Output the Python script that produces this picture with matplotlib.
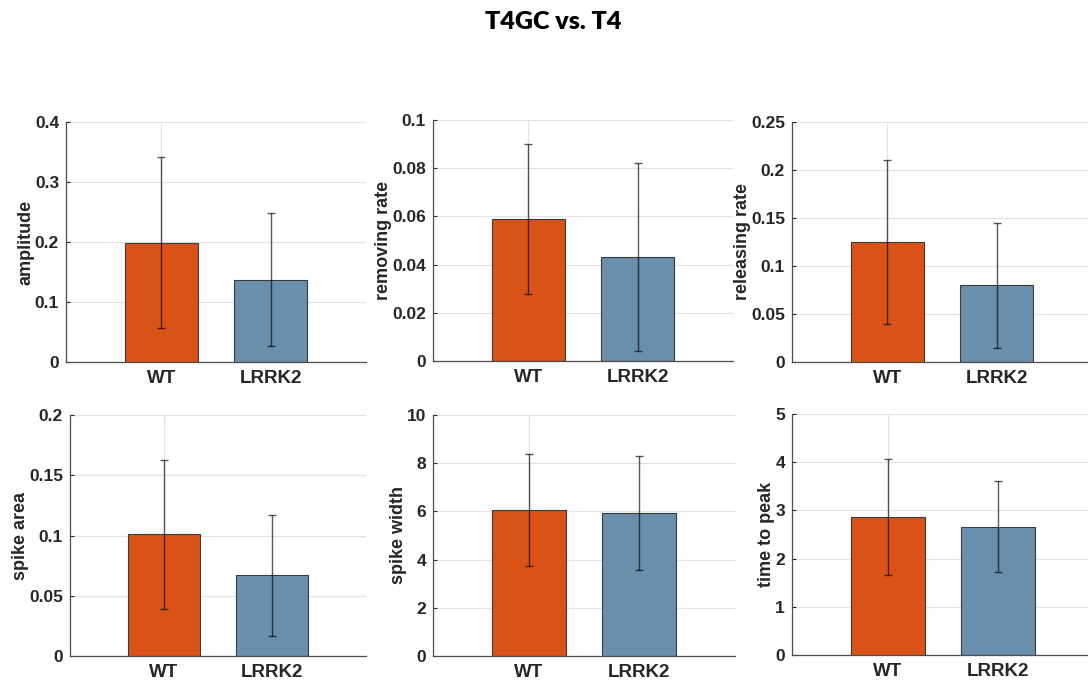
import matplotlib.pyplot as plt

plt.rcParams['font.family'] = ['Liberation Sans', 'DejaVu Sans']
plt.rcParams['font.weight'] = 'bold'

groups = ['WT', 'LRRK2']
ylabels = ['amplitude', 'removing rate', 'releasing rate',
           'spike area', 'spike width', 'time to peak']

means = [[0.199, 0.137],
         [0.059, 0.043],
         [0.125, 0.080],
         [0.101, 0.067],
         [6.06, 5.93],
         [2.86, 2.66]]
errs = [[0.142, 0.111],
        [0.031, 0.039],
        [0.085, 0.065],
        [0.062, 0.050],
        [2.34, 2.36],
        [1.20, 0.94]]
ylims = [0.4, 0.1, 0.25, 0.2, 10, 5]
yticks = [[0, 0.1, 0.2, 0.3, 0.4],
          [0, 0.02, 0.04, 0.06, 0.08, 0.1],
          [0, 0.05, 0.1, 0.15, 0.2, 0.25],
          [0, 0.05, 0.1, 0.15, 0.2],
          [0, 2, 4, 6, 8, 10],
          [0, 1, 2, 3, 4, 5]]
ytlabels = [['0', '0.1', '0.2', '0.3', '0.4'],
            ['0', '0.02', '0.04', '0.06', '0.08', '0.1'],
            ['0', '0.05', '0.1', '0.15', '0.2', '0.25'],
            ['0', '0.05', '0.1', '0.15', '0.2'],
            ['0', '2', '4', '6', '8', '10'],
            ['0', '1', '2', '3', '4', '5']]

colors = ['#D95319', '#6A8FAC']
textc = '#262626'

W, H = 1088, 681
fig = plt.figure(figsize=(W / 100, H / 100), dpi=100)

# panel boxes in pixels: left, top, right, bottom
boxes = [(66, 122, 366, 362), (433, 120, 733, 361), (792, 122, 1092, 362),
         (70, 415, 366, 656), (433, 415, 735, 656), (792, 414, 1094, 655)]

for i, (l, t, r, b) in enumerate(boxes):
    ax = fig.add_axes([l / W, 1 - b / H, (r - l) / W, (b - t) / H])
    x = [1, 2]
    ax.bar(x, means[i], width=0.67, color=colors, edgecolor='#3a3a3a',
           linewidth=0.8, zorder=2)
    ax.errorbar(x, means[i], yerr=errs[i], fmt='none', ecolor='black',
                alpha=0.65, elinewidth=1, capsize=3, capthick=1, zorder=3)
    ax.set_xlim(0.13, 2.87)
    ax.set_ylim(0, ylims[i])
    ax.set_xticks(x)
    ax.set_xticklabels(groups, fontsize=13.5, fontweight='bold', color=textc)
    ax.set_yticks(yticks[i])
    ax.set_yticklabels(ytlabels[i], fontsize=12.5, fontweight='bold', color=textc)
    ax.set_ylabel(ylabels[i], fontsize=13, fontweight='bold', color=textc,
                  labelpad=0)
    ax.tick_params(direction='in', length=3, width=0.8, colors=textc, pad=5)
    ax.tick_params(axis='x', pad=6)
    ax.spines['top'].set_visible(False)
    ax.spines['right'].set_visible(False)
    for s in ['left', 'bottom']:
        ax.spines[s].set_color('#4d4d4d')
        ax.spines[s].set_linewidth(0.9)
    ax.grid(True, color='#e3e3e3', linewidth=0.9, zorder=0)
    ax.set_axisbelow(True)
    ax.xaxis.get_gridlines()[1].set_visible(False)

fig.text(553 / W, 1 - 22 / H, 'T4GC vs. T4', ha='center', va='center',
         fontsize=18, fontweight='heavy', color='black', family='Lato')

fig.savefig('out.png', dpi=100)
